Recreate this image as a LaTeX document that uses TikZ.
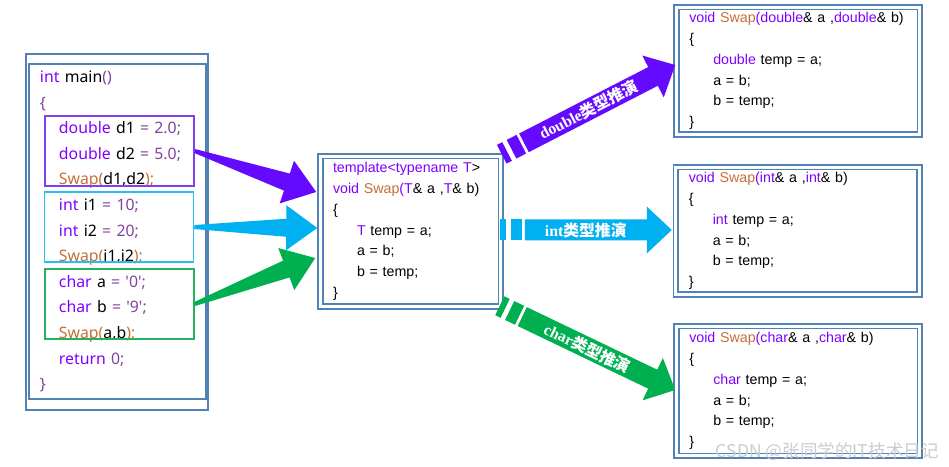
\documentclass[tikz,border=0pt]{standalone}
\usepackage{fontspec}
\setmainfont{Liberation Sans}
\newfontfamily\codefont{Noto Sans}
\newfontfamily\cjk{Noto Sans CJK SC}
\newfontfamily\labelfont{Liberation Serif}
\usetikzlibrary{calc,positioning}
\definecolor{framec}{RGB}{80,130,182}
\definecolor{kwc}{RGB}{128,0,255}
\definecolor{fnc}{RGB}{196,112,56}
\definecolor{opc}{RGB}{132,66,160}
\definecolor{dblc}{RGB}{100,10,255}
\definecolor{dblbox}{RGB}{128,64,240}
\definecolor{intc}{RGB}{0,176,240}
\definecolor{intbox}{RGB}{40,190,240}
\definecolor{charc}{RGB}{0,176,80}
\definecolor{charbox}{RGB}{40,176,96}
\newcommand\kw[1]{\textcolor{kwc}{#1}}
\newcommand\fn[1]{\textcolor{fnc}{#1}}
\newcommand\op[1]{\textcolor{opc}{#1}}
\newcommand\ind{\hspace*{3.8mm}}
\newcommand\tind{\hspace*{4.8mm}}
% wedge arrow: colour, tail, tip
\newcommand\fatarrow[3]{%
  \fill[#1] ($(#2)!0.4mm!90:(#3)$)
    -- ($(#3)!6.2mm!(#2)!1.8mm!90:(#3)$)
    -- ($(#3)!6.2mm!(#2)!4.5mm!90:(#3)$)
    -- (#3)
    -- ($(#3)!6.2mm!(#2)!4.5mm!-90:(#3)$)
    -- ($(#3)!6.2mm!(#2)!1.8mm!-90:(#3)$)
    -- ($(#2)!0.4mm!-90:(#3)$) -- cycle;}
% striped arrow: colour, tail, tip, label
\newcommand\stripearrow[4]{%
  \fill[#1] ($(#2)!2.1mm!90:(#3)$) -- ($(#2)!1.2mm!(#3)!2.1mm!90:(#3)$)
    -- ($(#2)!1.2mm!(#3)!2.1mm!-90:(#3)$) -- ($(#2)!2.1mm!-90:(#3)$) -- cycle;
  \fill[#1] ($(#2)!2.2mm!(#3)!2.1mm!90:(#3)$) -- ($(#2)!4.4mm!(#3)!2.1mm!90:(#3)$)
    -- ($(#2)!4.4mm!(#3)!2.1mm!-90:(#3)$) -- ($(#2)!2.2mm!(#3)!2.1mm!-90:(#3)$) -- cycle;
  \fill[#1] ($(#2)!5mm!(#3)!2.1mm!90:(#3)$)
    -- ($(#3)!5mm!(#2)!2.1mm!90:(#3)$)
    -- ($(#3)!5mm!(#2)!4.7mm!90:(#3)$)
    -- (#3)
    -- ($(#3)!5mm!(#2)!4.7mm!-90:(#3)$)
    -- ($(#3)!5mm!(#2)!2.1mm!-90:(#3)$)
    -- ($(#2)!5mm!(#3)!2.1mm!-90:(#3)$) -- cycle;
  \path (#2) -- (#3) node[arrowtext, pos=0.5] {#4};}
\tikzset{
      frameline/.style={
        draw=framec,
        line width=0.4mm,
        inner sep=0pt,
        outer sep=0pt
      },
      maincode/.style={
        align=left,
        text width=31mm,
        inner xsep=2.2mm,
        inner ysep=0pt,
        minimum height=67mm,
        font=\codefont\fontsize{9}{14.57}\selectfont
      },
      codebox/.style 2 args={
        draw=framec,
        line width=0.35mm,
        double=white,
        double distance=0.6mm,
        fill=white,
        align=left,
        text width=#1,
        inner xsep=2.6mm,
        inner ysep=0pt,
        outer sep=0pt,
        minimum height=#2,
        font=\fontsize{8.1}{11.8}\selectfont
      },
      grpbox/.style={
        draw=#1,
        line width=0.3mm,
        minimum width=29.8mm,
        minimum height=14mm,
        inner sep=0pt
      },
      arrowtext/.style={
        sloped,
        text=white,
        inner sep=0pt,
        font=\fontsize{9}{9}\selectfont
      },
      watermark/.style={
        text=gray!40,
        font=\cjk\fontsize{10}{10}\selectfont
      },
    }
\begin{document}
\begin{tikzpicture}[x=0.2mm, y=-0.2mm]
  \useasboundingbox (0,0) rectangle (949,467);

  % main()
  \node[frameline, minimum width=36.4mm, minimum height=71.2mm]
    (mainouter) at (117,232) {};
  \node[frameline, maincode]
    (mainbox) at (117.5,231.5)
    {\kw{int} main\op{()}\\
     \op{\{}\\
     \ind\kw{double} d1 \op{= 2.0;}\\
     \ind\kw{double} d2 \op{= 5.0;}\\
     \ind\fn{Swap(}d1,d2\fn{);}\\
     \ind\kw{int} i1 \op{= 10;}\\
     \ind\kw{int} i2 \op{= 20;}\\
     \ind\fn{Swap(}i1,i2\fn{);}\\
     \ind\kw{char} a \op{= \textquotesingle0\textquotesingle;}\\
     \ind\kw{char} b \op{= \textquotesingle9\textquotesingle;}\\
     \ind\fn{Swap(}a,b\fn{);}\\
     \ind\kw{return} \op{0;}\\
     \op{\}}};
  \node[grpbox=dblbox] (dgrp) at (119.5,151) {};
  \node[grpbox=intbox] (igrp) at (119,227) {};
  \node[grpbox=charbox] (cgrp) at (119.5,304) {};

  % template
  \node[codebox={31mm}{30.1mm}, inner xsep=2.55mm]
    (tmpl) at (410.5,231.5)
    {\kw{template<typename T}>\\
     \kw{void} \fn{Swap}\kw{(T}\& a ,\kw{T}\& b)\\
     \{\\
     \tind\kw{T} temp = a;\\
     \tind a = b;\\
     \tind b = temp;\\
     \}};

  % deduced functions
  \node[codebox={43.5mm}{25.5mm}]
    (dblfn) at (798,71)
    {\kw{void} \fn{Swap}\kw{(double}\& a ,\kw{double}\& b)\\
     \{\\
     \tind\kw{double} temp = a;\\
     \tind a = b;\\
     \tind b = temp;\\
     \}};
  \node[codebox={43.5mm}{25.5mm}]
    (intfn) at (797.5,231)
    {\kw{void} \fn{Swap}\kw{(int}\& a ,\kw{int}\& b)\\
     \{\\
     \tind\kw{int} temp = a;\\
     \tind a = b;\\
     \tind b = temp;\\
     \}};
  \node[codebox={43.5mm}{25.9mm}]
    (charfn) at (798,391)
    {\kw{void} \fn{Swap}\kw{(char}\& a ,\kw{char}\& b)\\
     \{\\
     \tind\kw{char} temp = a;\\
     \tind a = b;\\
     \tind b = temp;\\
     \}};

  \coordinate (dtip) at ($(tmpl.west)+(-4,-39.5)$);
  \coordinate (itip) at ($(tmpl.west)+(-3,-3.5)$);
  \coordinate (ctip) at ($(tmpl.west)+(-5,26.5)$);
  \fatarrow{dblc}{dgrp.east}{dtip}
  \fatarrow{intc}{igrp.east}{itip}
  \fatarrow{charc}{cgrp.east}{ctip}

  \coordinate (dfrom) at ($(tmpl.north east)+(1,-2)$);
  \coordinate (dto) at ($(dblfn.west)+(-1,-6)$);
  \coordinate (ifrom) at ($(tmpl.east)+(-1,-1.5)$);
  \coordinate (ito) at ($(intfn.west)+(-4,-1)$);
  \coordinate (cfrom) at ($(tmpl.south east)+(-1,-1)$);
  \coordinate (cto) at ($(charfn.west)+(-1,-1)$);
  \stripearrow{dblc}{dfrom}{dto}{{\labelfont\bfseries double}{\cjk\bfseries 类型推演}}
  \stripearrow{intc}{ifrom}{ito}{{\labelfont\bfseries int}{\cjk\bfseries 类型推演}}
  \stripearrow{charc}{cfrom}{cto}{{\labelfont\bfseries char}{\cjk\bfseries 类型推演}}

  \node[watermark, anchor=east] (wmark) at (945,452) {CSDN @张同学的IT技术日记};
\end{tikzpicture}
\end{document}
